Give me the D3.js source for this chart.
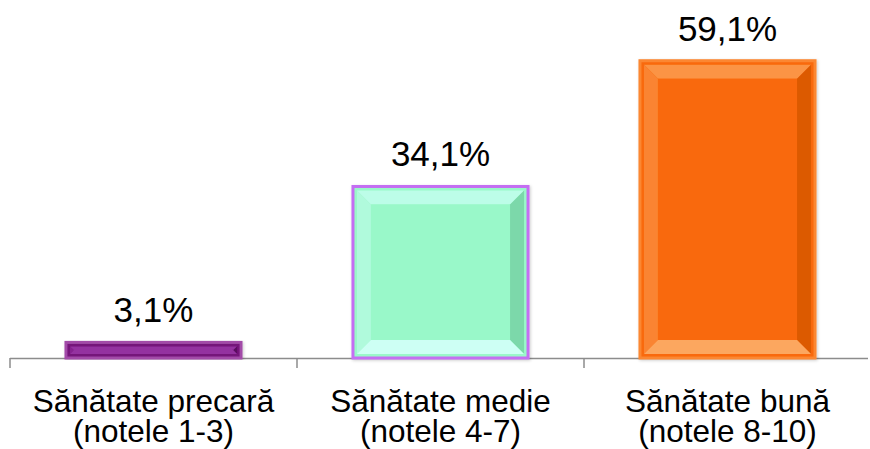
<!DOCTYPE html>
<html>
<head>
<meta charset="utf-8">
<script src="https://cdn.jsdelivr.net/npm/d3@7"></script>
<style>
  body { margin: 0; background: #fff; }
  text { font-family: "Liberation Sans", Arial, sans-serif; fill: #000; }
</style>
</head>
<body>
<svg id="chart"></svg>
<script>
// data
var categories = ["Sănătate precară|(notele 1-3)", "Sănătate medie|(notele 4-7)", "Sănătate bună|(notele 8-10)"];
var values = [3.1, 34.1, 59.1];
var valueLabels = ["3,1%", "34,1%", "59,1%"];

// bar looks: fill, border, top/left highlight, right shade, bottom highlight
var looks = [
    {fill: "#74127a", stroke: "#a24ca8", top: "#9433a0", left: "#862490", right: "#5a0a60", bottom: "#9433a0"},
    {fill: "#99f8c9", stroke: "#c46ef2", top: "#bcfde8", left: "#b0fadc", right: "#7cd8aa", bottom: "#cdfff4"},
    {fill: "#f9690b", stroke: "#fb8733", top: "#fb9444", left: "#fa8430", right: "#dc5a03", bottom: "#fca75e"}
];

var width = 870,
    height = 449,
    baseY = 358;

var svg = d3.select("#chart")
    .attr("width", width)
    .attr("height", height);

var defs = svg.append("defs");
var shadow = defs.append("filter").attr("id", "shadow")
    .attr("x", "-10%").attr("y", "-10%").attr("width", "120%").attr("height", "120%");
shadow.append("feDropShadow")
    .attr("dx", 1).attr("dy", 1).attr("stdDeviation", 1.5)
    .attr("flood-color", "#000").attr("flood-opacity", 0.2);

var x = d3.scaleBand()
    .domain(categories)
    .range([10, 871])
    .paddingInner(0.39)
    .paddingOuter(0.195);

var y = d3.scaleLinear()
    .domain([0, 70])
    .range([baseY, baseY - 70 * 5.03]);

// axis: line with ticks at the category boundaries
var step = x.step(),
    x0 = x.range()[0];
var axis = svg.append("g").attr("class", "x axis");
axis.append("line")
    .attr("x1", x0).attr("x2", x.range()[1] - 3)
    .attr("y1", baseY + 0.5).attr("y2", baseY + 0.5)
    .attr("stroke", "#8c8c8c").attr("stroke-width", 1.5);
axis.selectAll(".tick")
    .data(d3.range(categories.length))
    .enter().append("line")
    .attr("class", "tick")
    .attr("x1", function(i) { return x0 + i * step; })
    .attr("x2", function(i) { return x0 + i * step; })
    .attr("y1", baseY).attr("y2", baseY + 10)
    .attr("stroke", "#8c8c8c").attr("stroke-width", 1.5);

// bars with a bevel
var bars = svg.selectAll(".bar")
    .data(values)
    .enter().append("g")
    .attr("class", "bar")
    .attr("filter", "url(#shadow)");

bars.each(function(v, i) {
    var g = d3.select(this),
        L = looks[i],
        bx = x(categories[i]),
        bw = x.bandwidth(),
        by = y(v),
        bh = baseY - by,
        b = Math.min(14, bh * 0.3),
        ix = bx + 4, iy = by + 4, iw = bw - 8, ih = bh - 8;

    g.append("rect")
        .attr("x", bx).attr("y", by).attr("width", bw).attr("height", bh)
        .attr("fill", L.fill).attr("stroke", L.stroke).attr("stroke-width", 3);

    function poly(pts, col) {
        g.append("polygon")
            .attr("points", pts.map(function(p) { return p.join(","); }).join(" "))
            .attr("fill", col);
    }
    var a = [ix, iy], c = [ix + iw, iy], d = [ix + iw, iy + ih], e = [ix, iy + ih],
        ia = [ix + b, iy + b], ic = [ix + iw - b, iy + b], id = [ix + iw - b, iy + ih - b], ie = [ix + b, iy + ih - b];
    poly([a, c, ic, ia], L.top);
    poly([a, ia, ie, e], L.left);
    poly([c, d, id, ic], L.right);
    poly([e, ie, id, d], L.bottom);
    g.append("rect")
        .attr("x", ia[0]).attr("y", ia[1])
        .attr("width", Math.max(0, iw - 2 * b)).attr("height", Math.max(0, ih - 2 * b))
        .attr("fill", L.fill);
});

// value labels
svg.selectAll(".value")
    .data(values)
    .enter().append("text")
    .attr("class", "value")
    .attr("x", function(_, i) { return x(categories[i]) + x.bandwidth() / 2; })
    .attr("y", function(v) { return y(v) - 20; })
    .attr("text-anchor", "middle")
    .style("font-size", "35px")
    .text(function(_, i) { return valueLabels[i]; });

// category labels, two lines each
var cat = svg.selectAll(".cat")
    .data(categories)
    .enter().append("text")
    .attr("class", "cat")
    .attr("text-anchor", "middle")
    .style("font-size", "31.5px")
    .attr("transform", function(d) { return "translate(" + (x(d) + x.bandwidth() / 2) + ",412)"; });

cat.selectAll("tspan")
    .data(function(d) { return d.split("|"); })
    .enter().append("tspan")
    .attr("x", 0)
    .attr("y", function(_, j) { return j * 30; })
    .text(function(t) { return t; });
</script>
</body>
</html>
